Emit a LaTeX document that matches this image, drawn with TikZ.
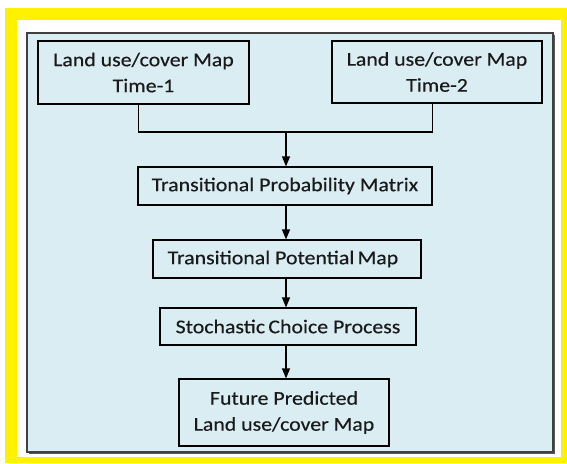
\documentclass[tikz,border=0pt]{standalone}
\usepackage{fontspec}
\setmainfont{Carlito}[FakeStretch=1.12, FakeBold=0.4]
\usetikzlibrary{arrows.meta}
\definecolor{panelblue}{HTML}{DAEDF3}
\definecolor{txt}{HTML}{1A1A1A}
\tikzset{
  flowbox/.style={draw=black, line width=1.2pt, fill=panelblue, inner sep=0pt, align=center, text=txt, font=\fontsize{19.5}{26}\selectfont},
  flowline/.style={line width=1.2pt, draw=black},
  flowarrow/.style={flowline, -{Triangle[length=10pt,width=8pt]}}
}
\begin{document}
\begin{tikzpicture}[x=1pt,y=-1pt]
\useasboundingbox (0,0) rectangle (567,463);
\fill[yellow] (5,8) rectangle (567,463);
\fill[white] (17,20) rectangle (561,457);
\fill[gray!70!black] (29,35) rectangle (555,454);
\filldraw[fill=panelblue, draw=black!75, line width=1.2pt] (27,33) rectangle (553,452);
\node[flowbox, minimum width=211pt, minimum height=63pt] (b1) at (143.5,72.5) {Land use/cover Map\\Time-1};
\node[flowbox, minimum width=210pt, minimum height=62pt] (b2) at (437,72) {Land use/cover Map\\Time-2};
\node[flowbox, minimum width=294pt, minimum height=38pt] (tpm) at (285,186) {Transitional Probability Matrix};
\node[flowbox, minimum width=268pt, minimum height=38pt] (tpot) at (287,259) {Transitional Potential\,Map\hspace{8pt}};
\node[flowbox, minimum width=256pt, minimum height=37pt] (scp) at (288,326.5) {Stochastic\,Choice Process};
\node[flowbox, minimum width=210pt, minimum height=67pt] (fut) at (284,412.5) {Future Predicted\\Land use/cover Map};
\coordinate (j) at (286,132);
\draw[flowline] ([xshift=-4.7pt]b1.south) |- (j) -| ([xshift=-4.7pt]b2.south);
\draw[flowarrow] (j) -- (j |- tpm.north);
\draw[flowarrow] (j |- tpm.south) -- (j |- tpot.north);
\draw[flowarrow] (j |- tpot.south) -- (j |- scp.north);
\draw[flowarrow] (j |- scp.south) -- (j |- fut.north);
\end{tikzpicture}
\end{document}
